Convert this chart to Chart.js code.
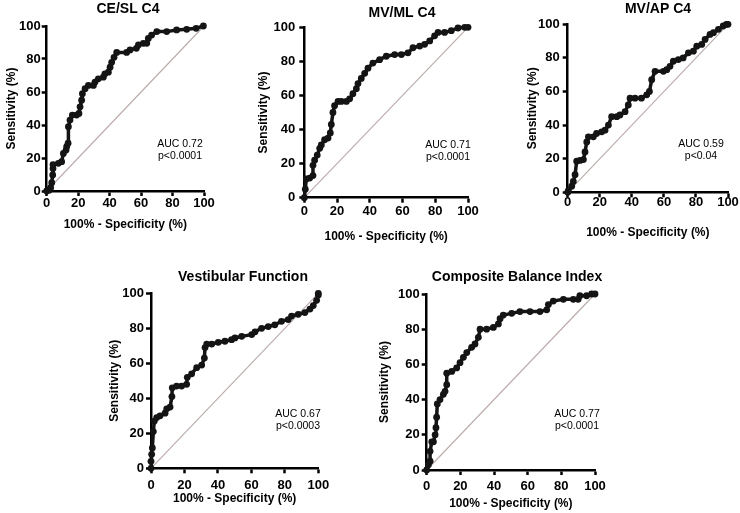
<!DOCTYPE html>
<html>
<head>
<meta charset="utf-8">
<title>ROC curves</title>
<script src="https://cdn.jsdelivr.net/npm/chart.js@4.4.1/dist/chart.umd.min.js"></script>
<style>
    html, body { margin: 0; padding: 0; background: #fff; }
    #fig { position: relative; width: 740px; height: 513px; overflow: hidden; background: #fff; }
    #fig canvas { position: absolute; }
</style>
</head>
<body>
<div id="fig">
    <canvas id="roc-cesl"></canvas>
    <canvas id="roc-mvml"></canvas>
    <canvas id="roc-mvap"></canvas>
    <canvas id="roc-vest"></canvas>
    <canvas id="roc-cbi"></canvas>
</div>
<script>
// Tick labels (both axes)
var axisTicks = [0, 20, 40, 60, 80, 100];

// Panel titles and stats
var panelTitles = ['CE/SL C4', 'MV/ML C4', 'MV/AP C4', 'Vestibular Function', 'Composite Balance Index'];
var aucValues = ['0.72', '0.71', '0.59', '0.67', '0.77'];
var pValues = ['p<0.0001', 'p<0.0001', 'p<0.04', 'p<0.0003', 'p<0.0001'];

// Reference line
var refX = [0, 100];
var refY = [0, 100];

// CE/SL C4
var ceslX = [0, 1.5, 2.5, 3.2, 3.8, 4, 4, 7.4, 9.5, 10.6, 12.3, 12.7, 13.6, 13.8, 14.8, 16.3, 19, 20.5, 21.2, 22.2, 22.7, 24.4, 26.5, 29.7, 30.7, 32.8, 36, 37, 39.2, 40.3, 41.3, 42.8, 44.5, 50.8, 53, 57, 58.3, 61.4, 63.6, 64.6, 66.7, 70, 76.3, 82.6, 89, 95, 99.6];
var ceslY = [0, 0.5, 2, 5, 9.7, 13.7, 16, 16.8, 17.8, 22.8, 24.8, 26.9, 29, 39, 43, 46, 46, 47, 51, 55, 59, 62, 64, 64, 66, 68, 69, 71, 72, 75, 78, 81, 84, 84, 85.5, 86.5, 88.5, 89.5, 89.5, 92.5, 94.5, 96.6, 96.6, 97.6, 98, 98.6, 100];

// MV/ML C4
var mvmlX = [0, 0.6, 1.2, 3.3, 5.3, 5.3, 6.3, 7.9, 9.4, 10.4, 12.4, 14.5, 15.9, 16.5, 17.5, 18.5, 20.6, 22.6, 25.7, 27.7, 29.7, 31.8, 32.8, 34.8, 36.9, 38.9, 41.9, 46, 50.1, 55.2, 59.3, 63.3, 66.4, 70.5, 73.5, 76.6, 79.6, 81.7, 85.7, 89.8, 93.9, 98, 100];
var mvmlY = [0, 5, 11, 11.5, 13, 19, 22, 25, 29, 31, 34, 35, 38, 43, 50, 54, 56.5, 56.5, 56.5, 58, 61, 64, 67, 70, 73, 76, 79, 81, 83, 84, 84, 85, 88, 89, 90, 92, 95, 97, 97, 98, 99.6, 100, 100];

// MV/AP C4
var mvapX = [0, 0.4, 2.5, 3.5, 4.6, 5.6, 7.7, 9.8, 10.8, 11.9, 12.9, 16, 18, 21.2, 23.3, 25.4, 27.4, 30.6, 32.6, 35.8, 37.8, 38.9, 42, 46, 49.3, 51, 52.4, 54.5, 59.7, 61.8, 63.8, 65.9, 69, 72, 75.3, 78.4, 80.5, 83.6, 85.7, 88.8, 90.9, 94, 97, 99, 100];
var mvapY = [0, 1, 3.6, 6.5, 10.5, 18.5, 19, 19.5, 24, 30, 33, 33, 35, 36, 37, 40, 45, 45, 46, 48, 52, 56, 56, 56, 58, 60, 67, 72, 72, 73, 75, 78, 79, 80, 83, 84, 87, 88, 91, 94, 95, 97, 99, 100, 100];

// Vestibular Function
var vestX = [0, 0, 0.4, 0.8, 1.4, 2, 3.4, 5.4, 8.4, 9.4, 11.4, 12.5, 12.7, 15.3, 18.3, 21.3, 21.7, 24.3, 27.3, 30.3, 31.9, 32.3, 33.3, 36.3, 40.2, 44.2, 48.2, 50.2, 54.2, 60.2, 62.2, 66.1, 70.1, 74, 78, 82, 84, 88, 92, 95, 97, 99, 100, 100];
var vestY = [0, 4, 8, 11.6, 21, 27, 29, 30, 31.5, 34, 35, 41, 46, 47, 47, 48, 52, 54, 57.5, 59, 63, 69, 71, 71, 72, 72.6, 73.5, 74.5, 75.4, 76.4, 78, 80, 81, 82, 84, 85, 87, 88, 89, 91, 93, 96, 99, 100];

// Composite Balance Index
var cbiX = [0, 1, 2, 2, 3, 4, 5, 5.5, 5.9, 6.3, 7.9, 9.9, 10.9, 11.9, 11.9, 14.9, 17.8, 19.8, 21.8, 23.8, 26.7, 28.7, 30.7, 31.7, 35.6, 39.6, 42.6, 43.6, 45.5, 50.5, 55.4, 61.4, 67.3, 71.3, 72.3, 75.2, 81.2, 87.1, 90, 91, 95, 98, 100];
var cbiY = [0, 3, 5, 10.6, 16, 16, 20, 24, 30, 37.5, 40, 43, 44.7, 48.5, 55, 56, 58, 61, 64, 66.7, 69.7, 71.6, 75.4, 80, 80, 81, 83, 86, 88, 89, 90, 90, 90, 91, 94, 96, 97, 97, 97, 99, 99, 100, 100];

(function() {
    'use strict';

    var FONT = '"Liberation Sans", Arial, Helvetica, sans-serif';
    var INK = '#141414';

    // Where each panel sits on the page: canvas box, plot area, text spots
    var layout = [
        { id: 'roc-cesl', box: [0, 0, 235, 236], area: [46.7, 26, 204, 191], title: [128, 9], auc: [180, 144], xPad: 0, yPad: 1, xTitleBottom: 4 },
        { id: 'roc-mvml', box: [252, 0, 238, 248], area: [304.3, 27.3, 468, 197.7], title: [402, 13], auc: [448, 145], xPad: 1, yPad: 4, xTitleBottom: 4 },
        { id: 'roc-mvap', box: [521, 0, 219, 244], area: [567.7, 24.3, 728, 192.3], title: [658, 9], auc: [701, 144], xPad: -3, yPad: 3, xTitleBottom: 4 },
        { id: 'roc-vest', box: [103, 260, 237, 250], area: [151, 293.3, 318.3, 468.3], title: [243, 277], auc: [298, 414], xPad: 4, yPad: 2, xTitleBottom: 4 },
        { id: 'roc-cbi', box: [373, 260, 242, 253], area: [426.7, 294, 595, 470], title: [517, 277], auc: [577, 414], xPad: 4, yPad: 2, xTitleBottom: 2 }
    ];

    var series = [
        [ceslX, ceslY],
        [mvmlX, mvmlY],
        [mvapX, mvapY],
        [vestX, vestY],
        [cbiX, cbiY]
    ];

    /**
     * Pair x and y lists into points
     */
    function toPoints(xs, ys) {
        return xs.map(function(x, i) {
            return { x: x, y: ys[i] };
        });
    }

    /**
     * Title + AUC annotation
     */
    var panelText = {
        id: 'panelText',
        afterDraw: function(chart, args, opts) {
            var ctx = chart.ctx;
            ctx.save();
            ctx.fillStyle = '#000';
            ctx.textAlign = 'center';
            ctx.textBaseline = 'middle';
            ctx.font = 'bold 14px ' + FONT;
            ctx.fillText(opts.title, opts.titleX, opts.titleY);
            ctx.font = '10.5px ' + FONT;
            ctx.fillText('AUC ' + opts.auc, opts.aucX, opts.aucY);
            ctx.fillText(opts.p, opts.aucX, opts.aucY + 12);
            ctx.restore();
        }
    };

    function axisOptions(isX, pan) {
        var bx = pan.box, ar = pan.area;
        return {
            type: 'linear',
            min: 0,
            max: 100,
            afterBuildTicks: function(scale) {
                scale.ticks = axisTicks.map(function(v) { return { value: v }; });
            },
            afterFit: function(scale) {
                if (isX) {
                    scale.height = bx[1] + bx[3] - ar[3];
                } else {
                    scale.width = ar[0] - bx[0];
                }
            },
            border: { display: true, color: '#000', width: 2.5 },
            grid: {
                display: true,
                drawOnChartArea: false,
                drawTicks: true,
                tickLength: 5,
                tickWidth: 2.5,
                tickColor: '#000'
            },
            ticks: {
                color: '#000',
                padding: isX ? pan.xPad : pan.yPad,
                maxRotation: 0,
                autoSkip: false,
                font: { family: FONT, size: 13, weight: 'bold' }
            },
            title: {
                display: true,
                text: isX ? '100% - Specificity (%)' : 'Sensitivity (%)',
                color: '#000',
                padding: isX ? { top: 4, bottom: pan.xTitleBottom } : { top: 4, bottom: 4 },
                font: { family: FONT, size: 12, weight: 'bold' }
            }
        };
    }

    function drawPanel(pan, i) {
        var canvas = document.getElementById(pan.id);
        var bx = pan.box, ar = pan.area;
        canvas.width = bx[2];
        canvas.height = bx[3];
        canvas.style.left = bx[0] + 'px';
        canvas.style.top = bx[1] + 'px';
        canvas.style.width = bx[2] + 'px';
        canvas.style.height = bx[3] + 'px';

        new Chart(canvas, {
            type: 'scatter',
            data: {
                datasets: [{
                    data: toPoints(series[i][0], series[i][1]),
                    showLine: true,
                    borderColor: INK,
                    backgroundColor: INK,
                    borderWidth: 3.5,
                    pointRadius: 3.4,
                    pointBorderWidth: 0,
                    pointBackgroundColor: INK,
                    clip: false
                }, {
                    data: toPoints(refX, refY),
                    showLine: true,
                    borderColor: '#bcadad',
                    borderWidth: 1.2,
                    pointRadius: 0,
                    clip: false
                }]
            },
            options: {
                responsive: false,
                animation: false,
                devicePixelRatio: 1,
                layout: {
                    padding: {
                        left: 0,
                        top: ar[1] - bx[1],
                        right: bx[0] + bx[2] - ar[2],
                        bottom: 0
                    }
                },
                plugins: {
                    legend: { display: false },
                    tooltip: { enabled: false },
                    panelText: {
                        title: panelTitles[i],
                        titleX: pan.title[0] - bx[0],
                        titleY: pan.title[1] - bx[1],
                        auc: aucValues[i],
                        p: pValues[i],
                        aucX: pan.auc[0] - bx[0],
                        aucY: pan.auc[1] - bx[1]
                    }
                },
                scales: {
                    x: axisOptions(true, pan),
                    y: axisOptions(false, pan)
                }
            },
            plugins: [panelText]
        });
    }

    layout.forEach(drawPanel);
})();
</script>
</body>
</html>
